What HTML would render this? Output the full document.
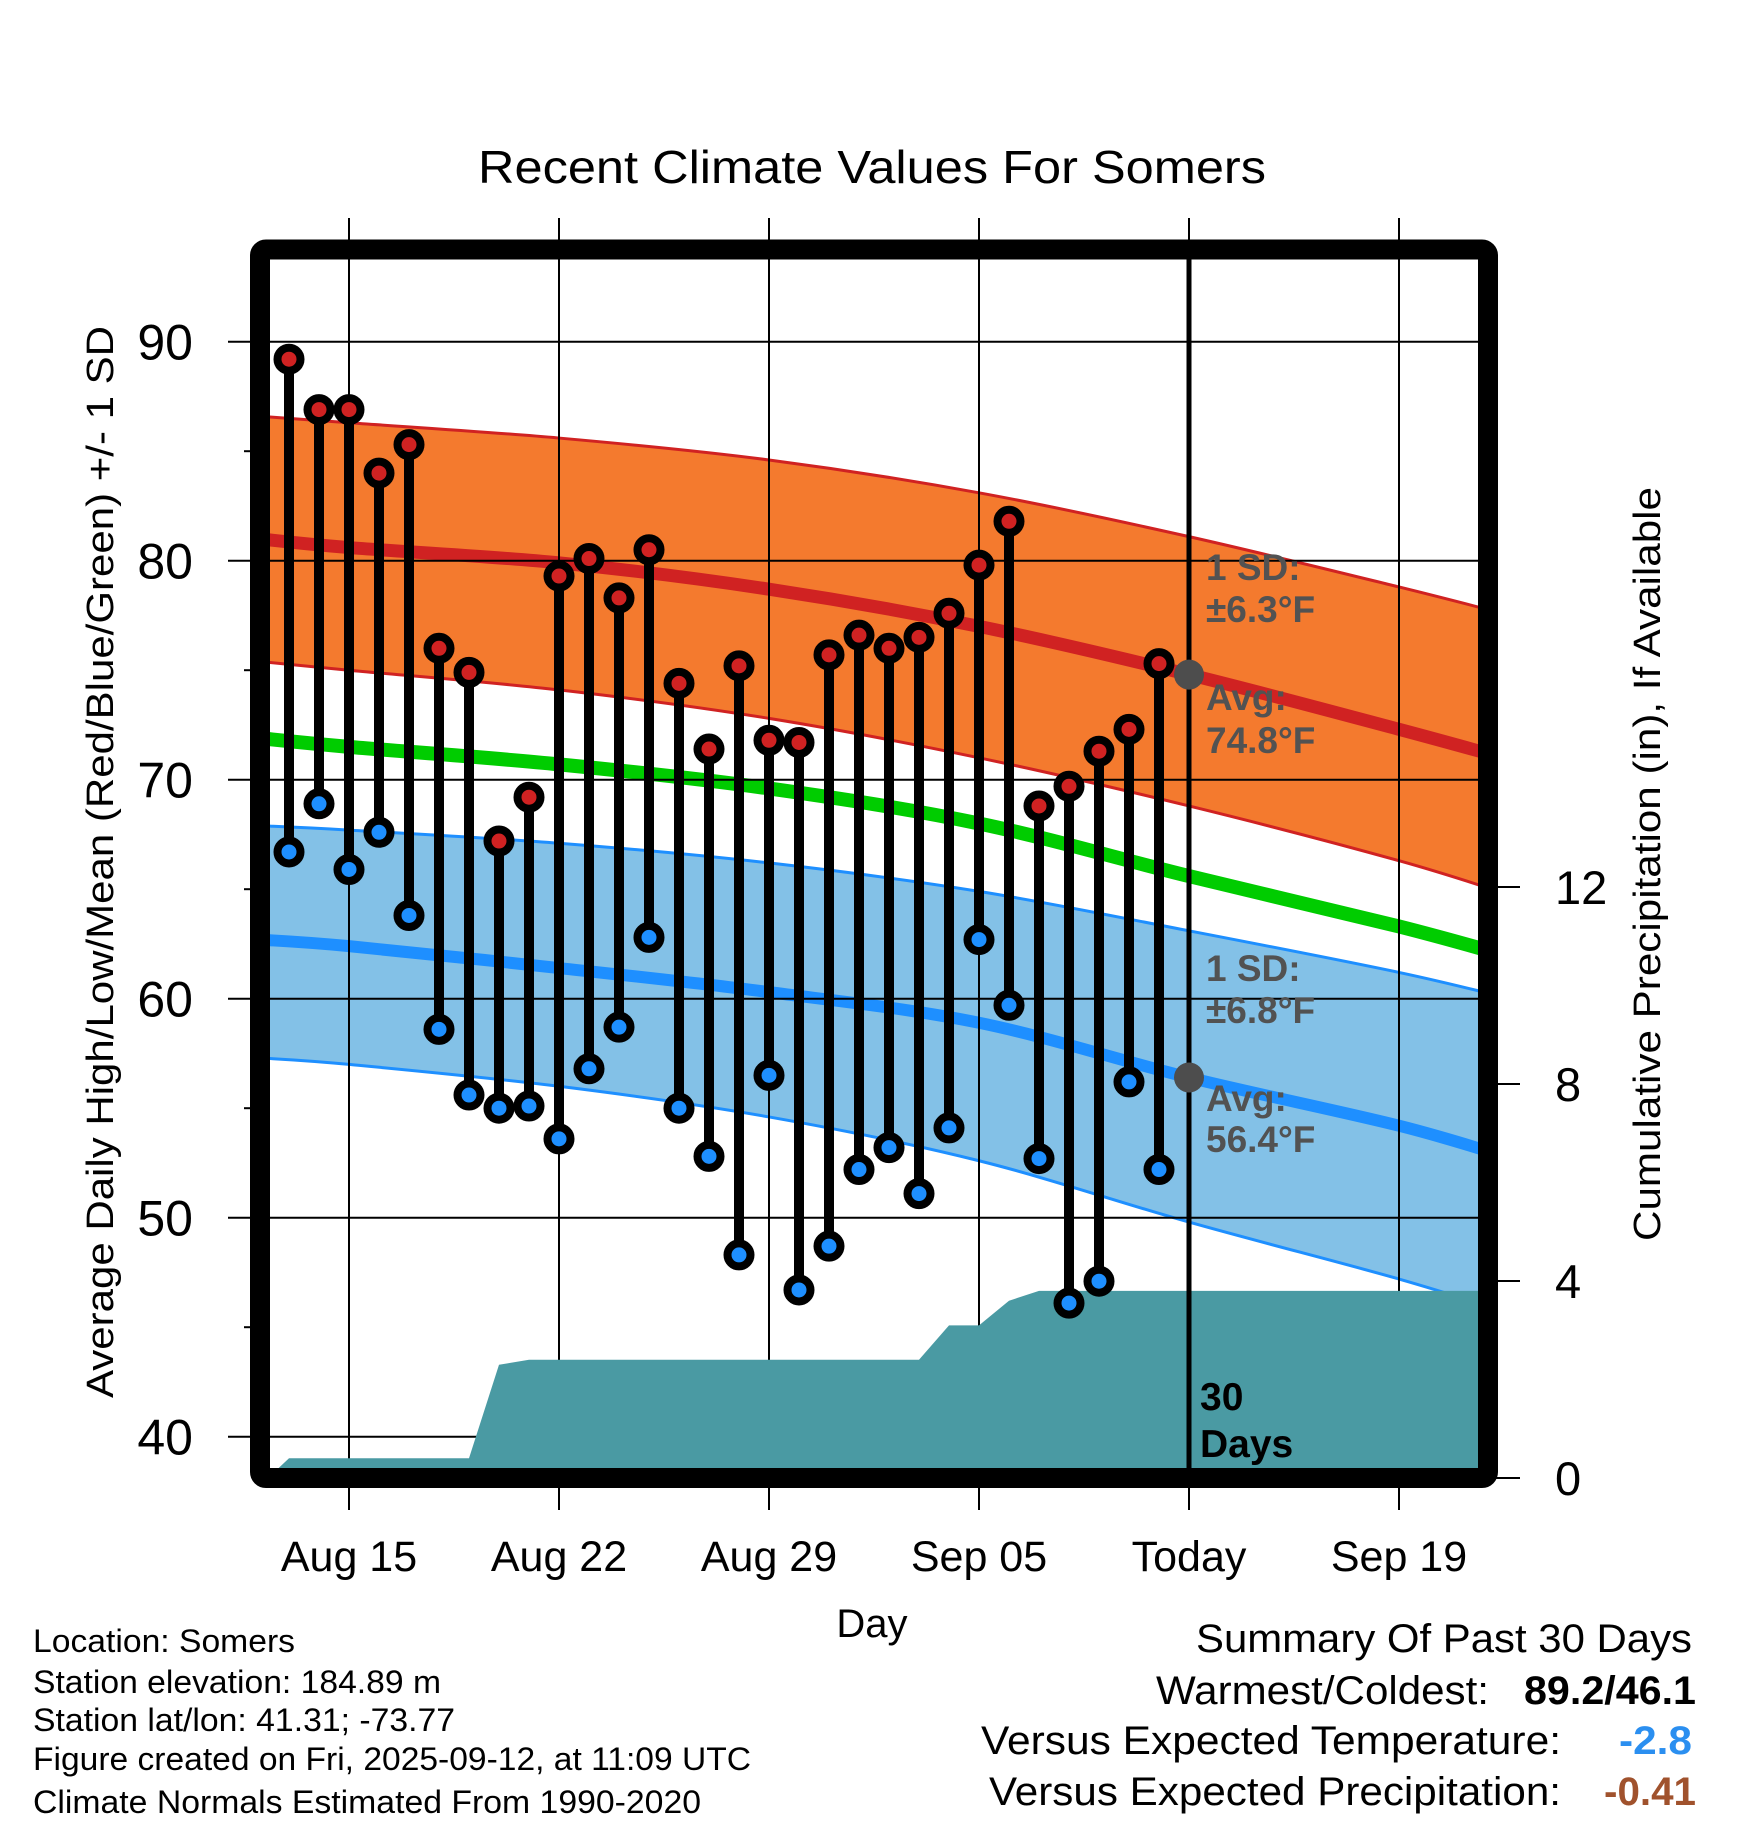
<!DOCTYPE html>
<html><head><meta charset="utf-8"><style>
html,body{margin:0;padding:0;background:#fff;}
svg{display:block;font-family:"Liberation Sans",sans-serif;}
</style></head><body>
<svg id="chart" width="1748" height="1828" viewBox="0 0 1748 1828" xmlns="http://www.w3.org/2000/svg">
<defs><clipPath id="plotclip"><rect x="270" y="260" width="1208" height="1208"/></clipPath></defs>
<text x="872" y="183" font-size="46" text-anchor="middle" textLength="788" lengthAdjust="spacingAndGlyphs">Recent Climate Values For Somers</text>
<g id="plot" clip-path="url(#plotclip)"></g>
<g id="axes"></g>
<text transform="translate(113,862) rotate(-90)" font-size="38" text-anchor="middle" textLength="1072" lengthAdjust="spacingAndGlyphs">Average Daily High/Low/Mean (Red/Blue/Green) +/- 1 SD</text>
<text transform="translate(1660,864) rotate(-90)" font-size="38" text-anchor="middle" textLength="754" lengthAdjust="spacingAndGlyphs">Cumulative Precipitation (in), If Available</text>
<text x="872" y="1637" font-size="40" text-anchor="middle">Day</text>
<g font-size="32">
<text x="33" y="1652" textLength="262" lengthAdjust="spacingAndGlyphs">Location: Somers</text>
<text x="33" y="1693" textLength="408" lengthAdjust="spacingAndGlyphs">Station elevation: 184.89 m</text>
<text x="33" y="1731" textLength="422" lengthAdjust="spacingAndGlyphs">Station lat/lon: 41.31; -73.77</text>
<text x="33" y="1770" textLength="718" lengthAdjust="spacingAndGlyphs">Figure created on Fri, 2025-09-12, at 11:09 UTC</text>
<text x="33" y="1813" textLength="668" lengthAdjust="spacingAndGlyphs">Climate Normals Estimated From 1990-2020</text>
</g>
<g font-size="40" text-anchor="end">
<text x="1692" y="1652" textLength="496" lengthAdjust="spacingAndGlyphs">Summary Of Past 30 Days</text>
<text x="1489" y="1704" textLength="333" lengthAdjust="spacingAndGlyphs">Warmest/Coldest:</text>
<text x="1696" y="1704" font-weight="bold" textLength="172" lengthAdjust="spacingAndGlyphs">89.2/46.1</text>
<text x="1561" y="1754" textLength="580" lengthAdjust="spacingAndGlyphs">Versus Expected Temperature:</text>
<text x="1692" y="1754" font-weight="bold" fill="#2b8ff0" textLength="73" lengthAdjust="spacingAndGlyphs">-2.8</text>
<text x="1561" y="1805" textLength="572" lengthAdjust="spacingAndGlyphs">Versus Expected Precipitation:</text>
<text x="1696" y="1805" font-weight="bold" fill="#a0522d" textLength="92" lengthAdjust="spacingAndGlyphs">-0.41</text>
</g>
</svg>
<script>
const highs=[89.2,86.9,86.9,84.0,85.3,76.0,74.9,67.2,69.2,79.3,80.1,78.3,80.5,74.4,71.4,75.2,71.8,71.7,75.7,76.6,76.0,76.5,77.6,79.8,81.8,68.8,69.7,71.3,72.3,75.3];
const lows=[66.7,68.9,65.9,67.6,63.8,58.6,55.6,55.0,55.1,53.6,56.8,58.7,62.8,55.0,52.8,48.3,56.5,46.7,48.7,52.2,53.2,51.1,54.1,62.7,59.7,52.7,46.1,47.1,56.2,52.2];
const precip=[0.4,0.4,0.4,0.4,0.4,0.4,0.4,2.3,2.4,2.4,2.4,2.4,2.4,2.4,2.4,2.4,2.4,2.4,2.4,2.4,2.4,2.4,3.1,3.1,3.6,3.8,3.8,3.8,3.8,3.8];
const normDays=[-1,2,9,16,23,30,37,41];
const hiAvg=[81.0,80.6,79.9,78.7,77.0,74.8,72.3,70.8];
const hiUp=[86.6,86.3,85.6,84.6,83.1,81.1,78.8,77.4];
const hiLo=[75.4,75.0,74.1,72.8,71.0,68.8,66.3,64.6];
const meanT=[71.9,71.5,70.7,69.6,68.0,65.6,63.3,61.8];
const loAvg=[62.7,62.4,61.4,60.3,58.9,56.4,54.2,52.6];
const loUp=[67.9,67.7,67.1,66.2,64.9,63.1,61.2,59.9];
const loLo=[57.3,57.0,56.0,54.6,52.6,49.8,47.2,45.5];
const xTickDays=[2,9,16,23,30,37];
const xTickLabels=["Aug 15","Aug 22","Aug 29","Sep 05","Today","Sep 19"];
const yTicks=[40,50,60,70,80,90];
const pTicks=[0,4,8,12];
const todayDay=30;
const todayHi=74.8, todayLo=56.4;

const NS="http://www.w3.org/2000/svg";
const X=d=>289+30*d;
const Y=v=>341.7+(90-v)*21.9;
const YP=p=>1478-p*49.25;
const plotG=document.getElementById('plot');
const axesG=document.getElementById('axes');
function mk(tag,attrs,parent){const e=document.createElementNS(NS,tag);for(const k in attrs)e.setAttribute(k,attrs[k]);parent.appendChild(e);return e;}
function segs(p){
  let s='';
  for(let i=0;i<p.length-1;i++){
    const p0=p[Math.max(0,i-1)],p1=p[i],p2=p[i+1],p3=p[Math.min(p.length-1,i+2)];
    const c1=[p1[0]+(p2[0]-p0[0])/6,p1[1]+(p2[1]-p0[1])/6];
    const c2=[p2[0]-(p3[0]-p1[0])/6,p2[1]-(p3[1]-p1[1])/6];
    s+=' C'+c1[0]+','+c1[1]+' '+c2[0]+','+c2[1]+' '+p2[0]+','+p2[1];
  }
  return s;
}
function curve(arr){
  const p=normDays.map((d,i)=>[X(d),Y(arr[i])]);
  return 'M'+p[0][0]+','+p[0][1]+segs(p);
}
function curveRev(arr){
  const p=normDays.map((d,i)=>[X(d),Y(arr[i])]).reverse();
  return ' L'+p[0][0]+','+p[0][1]+segs(p)+' Z';
}
function band(up,lo,fill,edge,name){
  const b=mk('path',{d:curve(up)+curveRev(lo),fill:fill},plotG);
  
  
  const u=mk('path',{d:curve(up),fill:'none',stroke:edge,'stroke-width':3},plotG);
  
  
  const l=mk('path',{d:curve(lo),fill:'none',stroke:edge,'stroke-width':3},plotG);
  
  
}
band(hiUp,hiLo,'#f47a2e','#d02222','high-sd-band');
band(loUp,loLo,'#83c1e7','#1e8fff','low-sd-band');
let ln=mk('path',{d:curve(hiAvg),fill:'none',stroke:'#d02222','stroke-width':13},plotG);


ln=mk('path',{d:curve(meanT),fill:'none',stroke:'#00cc00','stroke-width':14},plotG);


ln=mk('path',{d:curve(loAvg),fill:'none',stroke:'#1e8fff','stroke-width':12},plotG);


// grid
yTicks.forEach(v=>{const g=mk('line',{x1:228,x2:1478,y1:Y(v),y2:Y(v),stroke:'#000','stroke-width':2},axesG);


const t=mk('text',{x:193,y:Y(v)+18,'font-size':50,'text-anchor':'end'},axesG);t.textContent=v;

});
[45,55,65,75,85].forEach(v=>{const g=mk('line',{x1:244,x2:252,y1:Y(v),y2:Y(v),stroke:'#000','stroke-width':2},axesG);

});
xTickDays.forEach((d,i)=>{const g=mk('line',{x1:X(d),x2:X(d),y1:218,y2:1510,stroke:'#000','stroke-width':2},axesG);


const t=mk('text',{x:X(d),y:1571,'font-size':43,'text-anchor':'middle'},axesG);t.textContent=xTickLabels[i];

});
pTicks.forEach(p=>{const g=mk('line',{x1:1495,x2:1520,y1:YP(p),y2:YP(p),stroke:'#000','stroke-width':2},axesG);


const t=mk('text',{x:1555,y:YP(p)+17,'font-size':47},axesG);t.textContent=p;

});
// precip area (clipped to plot)
const precipGroup=mk('g',{'clip-path':'url(#plotclip)'},axesG);


let pp=[X(-0.7)+','+YP(0)];
precip.forEach((p,i)=>pp.push(X(i)+','+YP(p)));
pp.push(X(42)+','+YP(precip[precip.length-1]));
pp.push(X(42)+','+YP(0));
const area=mk('polygon',{points:pp.join(' '),fill:'#4a9aa3'},precipGroup);


// today line
const tl=mk('line',{x1:X(todayDay),x2:X(todayDay),y1:255,y2:1470,stroke:'#000','stroke-width':5},axesG);


// stems
highs.forEach((h,i)=>{const s=mk('line',{x1:X(i),x2:X(i),y1:Y(h),y2:Y(lows[i]),stroke:'#000','stroke-width':10},axesG);

});
highs.forEach((h,i)=>{const c=mk('circle',{cx:X(i),cy:Y(h),r:11.5,fill:'#d02222',stroke:'#000','stroke-width':8},axesG);


const c2=mk('circle',{cx:X(i),cy:Y(lows[i]),r:11.5,fill:'#1e8fff',stroke:'#000','stroke-width':8},axesG);

});
[todayHi,todayLo].forEach(v=>{const c=mk('circle',{cx:X(todayDay),cy:Y(v),r:15,fill:'#4d4d4d'},axesG);

});
// annotations
const ann=[["1 SD:",580],["±6.3°F",622],["Avg:",710],["74.8°F",753],["1 SD:",981],["±6.8°F",1023],["Avg:",1111],["56.4°F",1152]];
ann.forEach(a=>{const t=mk('text',{x:1206,y:a[1],'font-size':37,'font-weight':'bold',fill:'#525252'},axesG);t.textContent=a[0];

});
[["30",1410],["Days",1457]].forEach(a=>{const t=mk('text',{x:1200,y:a[1],'font-size':39,'font-weight':'bold',fill:'#000'},axesG);t.textContent=a[0];

});
// frame
const fr=mk('rect',{x:260,y:249.5,width:1228,height:1228.5,rx:6,fill:'none',stroke:'#000','stroke-width':20},axesG);


</script>
</body></html>
